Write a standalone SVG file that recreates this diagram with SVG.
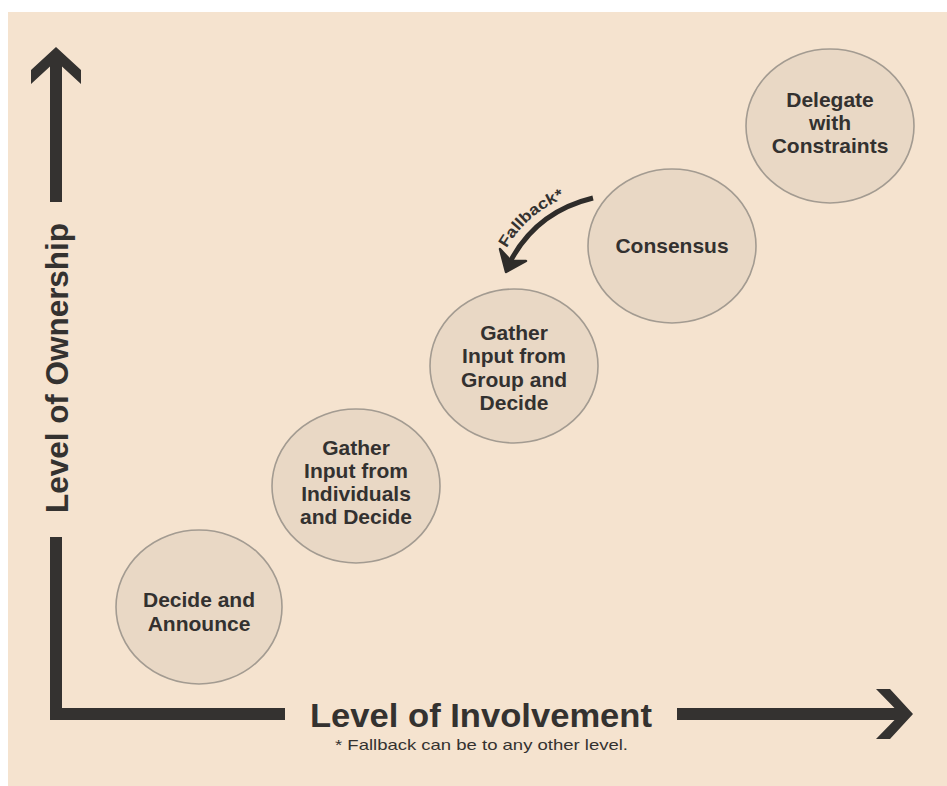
<svg xmlns="http://www.w3.org/2000/svg" width="947" height="786" viewBox="0 0 947 786">
  <style>
    .node ellipse { fill: #e9d8c5; stroke: #a39b91; stroke-width: 1.6; }
    .node text { font-family: "Liberation Sans", Arial, sans-serif; font-weight: bold; font-size: 21px; fill: #333130; text-anchor: middle; }
    .axis { fill: #343230; }
    .axislabel { font-family: "Liberation Sans", Arial, sans-serif; font-weight: bold; fill: #343230; }
    .note { font-family: "Liberation Sans", Arial, sans-serif; font-size: 15px; fill: #343230; }
  </style>
  <defs>
    <path id="fbpath" d="M 501 259 Q 527 204 590 190"/>
  </defs>
  <rect x="0" y="0" width="947" height="786" fill="#ffffff"/>
  <rect x="8" y="12" width="939" height="774" fill="#f5e3cf"/>

  <g id="axes">
    <polygon class="axis" points="56,47 81,70 81,84 62,66.5 62,202 50,202 50,66.5 31,84 31,70"/>
    <polygon class="axis" points="50,537 62,537 62,708 285,708 285,720 50,720"/>
    <polygon class="axis" points="913,714 890,739 876,739 894.5,720 677,720 677,708 894.5,708 876,689 890,689"/>
    <text class="axislabel" font-size="32" text-anchor="middle" textLength="290" lengthAdjust="spacingAndGlyphs" transform="translate(68,368) rotate(-90)" x="0" y="0">Level of Ownership</text>
    <text class="axislabel" font-size="33" x="310" y="727" textLength="342" lengthAdjust="spacingAndGlyphs">Level of Involvement</text>
    <text class="note" x="335" y="750" textLength="293" lengthAdjust="spacingAndGlyphs">* Fallback can be to any other level.</text>
  </g>

  <g id="node-decide-announce" class="node">
    <ellipse cx="199" cy="607" rx="83" ry="77"/>
    <text x="199" y="607">Decide and</text>
    <text x="199" y="631">Announce</text>
  </g>
  <g id="node-gather-individuals" class="node">
    <ellipse cx="356" cy="486" rx="84" ry="77"/>
    <text x="356" y="455">Gather</text>
    <text x="356" y="478">Input from</text>
    <text x="356" y="501">Individuals</text>
    <text x="356" y="524">and Decide</text>
  </g>
  <g id="node-gather-group" class="node">
    <ellipse cx="514" cy="366" rx="84" ry="77"/>
    <text x="514" y="340">Gather</text>
    <text x="514" y="363">Input from</text>
    <text x="514" y="387">Group and</text>
    <text x="514" y="410">Decide</text>
  </g>
  <g id="node-consensus" class="node">
    <ellipse cx="672" cy="246" rx="84" ry="77"/>
    <text x="672" y="253">Consensus</text>
  </g>
  <g id="node-delegate" class="node">
    <ellipse cx="830" cy="126" rx="84" ry="77"/>
    <text x="830" y="107">Delegate</text>
    <text x="830" y="130">with</text>
    <text x="830" y="153">Constraints</text>
  </g>

  <g id="connectors">
    <path d="M 593 198 Q 535 212 509 264" fill="none" stroke="#2e2c2a" stroke-width="5"/>
    <polygon points="506,272 526,261 511,261 500,249" fill="#2e2c2a" stroke="#2e2c2a" stroke-width="2.5" stroke-linejoin="round"/>
    <text font-family="'Liberation Sans', Arial, sans-serif" font-weight="bold" font-size="15.5" fill="#343230"><textPath href="#fbpath" startOffset="12" textLength="78" lengthAdjust="spacingAndGlyphs">Fallback*</textPath></text>
  </g>
</svg>
